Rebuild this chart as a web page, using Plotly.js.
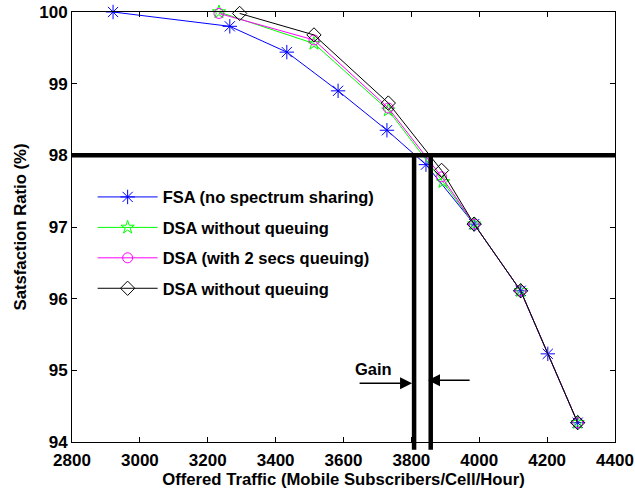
<!DOCTYPE html>
<html>
<head>
<meta charset="utf-8">
<script src="https://cdn.plot.ly/plotly-3.0.1.min.js"></script>
<style>html,body{margin:0;padding:0;background:#fff;}#chart{width:635px;height:493px;}</style>
</head>
<body>
<div id="chart"></div>
<script>
// ---- data ----
const fsaX = [2921, 3265, 3433, 3584, 3728, 3843, 3985, 4122, 4202, 4290];
const fsaY = [100.0, 99.80, 99.44, 98.90, 98.35, 97.87, 97.04, 96.11, 95.23, 94.27];

const dsaNoQX = [3233, 3513, 3732, 3893, 3985, 4122, 4290];
const dsaNoQY = [100.0, 99.56, 98.63, 97.63, 97.04, 96.11, 94.27];

const dsaQ2X = [3233, 3513, 3732, 3889, 3985, 4122, 4290];
const dsaQ2Y = [99.98, 99.61, 98.66, 97.70, 97.04, 96.11, 94.27];

const dsaNoQ2X = [3294, 3513, 3732, 3889, 3985, 4122, 4290];
const dsaNoQ2Y = [99.98, 99.68, 98.73, 97.79, 97.04, 96.11, 94.27];

const seriesNames = ["FSA (no spectrum sharing)", "DSA without queuing", "DSA (with 2 secs queuing)", "DSA without queuing"];

const targetRatio = 98;
const gainLeftX = 3808;
const gainRightX = 3857;
const xRange = [2800, 4400];
const yRange = [94, 100];
const xTicks = [2800, 3000, 3200, 3400, 3600, 3800, 4000, 4200, 4400];
const yTicks = [94, 95, 96, 97, 98, 99, 100];

const arrowY = 94.82;
const leftArrowTail = 3643;
const rightArrowTail = 3976;
const gainLabel = {text: "Gain", x: 3687, y: 95.02};

// ---- chart ----
const FONT = "Liberation Sans, Arial, sans-serif";
const tickFont = {family: FONT, size: 17, color: "#000", weight: "bold"};
const titleFont = {family: FONT, size: 16.7, color: "#000", weight: "bold"};

function trace(x, y, name, color, symbol, size, group) {
  return {
    x: x, y: y, name: name, type: "scatter", mode: "lines+markers",
    legendgroup: group,
    line: {color: color, width: 1},
    marker: {symbol: symbol, size: size, color: color, line: {color: color, width: 1}},
    cliponaxis: false
  };
}

const data = [
  trace(fsaX, fsaY, seriesNames[0], "#0000ff", "asterisk-open", 12, "a"),
  trace(dsaNoQX, dsaNoQY, seriesNames[1], "#00ff00", "star-open", 10, "b"),
  trace(dsaQ2X, dsaQ2Y, seriesNames[2], "#ff00ff", "circle-open", 10, "c"),
  trace(dsaNoQ2X, dsaNoQ2Y, seriesNames[3], "#000000", "diamond-open", 11, "d")
];

const ratioPaper = (targetRatio - yRange[0]) / (yRange[1] - yRange[0]);

const layout = {
  width: 635, height: 493,
  margin: {l: 72, r: 20, t: 12, b: 51},
  paper_bgcolor: "#fff", plot_bgcolor: "#fff",
  font: {family: FONT, size: 16, color: "#000", weight: "bold"},
  showlegend: true,
  legend: {
    x: 0.038, y: 0.61, xanchor: "left", yanchor: "top",
    bgcolor: "rgba(0,0,0,0)", borderwidth: 0,
    font: {family: FONT, size: 16.5, color: "#000", weight: "bold"},
    tracegroupgap: 6, itemwidth: 60
  },
  xaxis: {
    range: xRange, tickvals: xTicks, ticktext: xTicks.map(String),
    ticks: "inside", ticklen: 5, tickcolor: "#000", tickwidth: 1,
    showline: true, linecolor: "#000", linewidth: 1, mirror: "ticks",
    showgrid: false, zeroline: false, ticklabelstandoff: 3,
    tickfont: tickFont,
    title: {text: "Offered Traffic (Mobile Subscribers/Cell/Hour)", font: titleFont, standoff: 2}
  },
  yaxis: {
    range: yRange, tickvals: yTicks, ticktext: yTicks.map(String),
    ticks: "inside", ticklen: 5, tickcolor: "#000", tickwidth: 1,
    showline: true, linecolor: "#000", linewidth: 1, mirror: "ticks",
    showgrid: false, zeroline: false,
    tickfont: tickFont,
    title: {text: "Satsfaction Ratio (%)", font: titleFont, standoff: 8}
  },
  shapes: [
    {type: "line", xref: "x", yref: "y", x0: xRange[0], x1: xRange[1], y0: targetRatio, y1: targetRatio,
     line: {color: "#000", width: 4.5}, layer: "above"},
    {type: "line", xref: "x", yref: "paper", x0: gainLeftX, x1: gainLeftX, y0: ratioPaper, y1: -0.018,
     line: {color: "#000", width: 4.5}, layer: "above"},
    {type: "line", xref: "x", yref: "paper", x0: gainRightX, x1: gainRightX, y0: ratioPaper, y1: -0.018,
     line: {color: "#000", width: 4.5}, layer: "above"}
  ],
  annotations: [
    {x: gainLeftX - 6, y: arrowY, ax: leftArrowTail, ay: arrowY, axref: "x", ayref: "y", xref: "x", yref: "y",
     showarrow: true, arrowhead: 2, arrowsize: 1.6, arrowwidth: 1.5, arrowcolor: "#000", text: ""},
    {x: gainRightX - 8, y: arrowY + 0.04, ax: rightArrowTail, ay: arrowY + 0.04, axref: "x", ayref: "y", xref: "x", yref: "y",
     showarrow: true, arrowhead: 2, arrowsize: 1.6, arrowwidth: 1.5, arrowcolor: "#000", text: ""},
    {x: gainLabel.x, y: gainLabel.y, xref: "x", yref: "y", text: gainLabel.text, showarrow: false,
     font: {family: FONT, size: 16.5, color: "#000", weight: "bold"}}
  ]
};

Plotly.newPlot("chart", data, layout, {displayModeBar: false, staticPlot: true});
</script>
</body>
</html>
